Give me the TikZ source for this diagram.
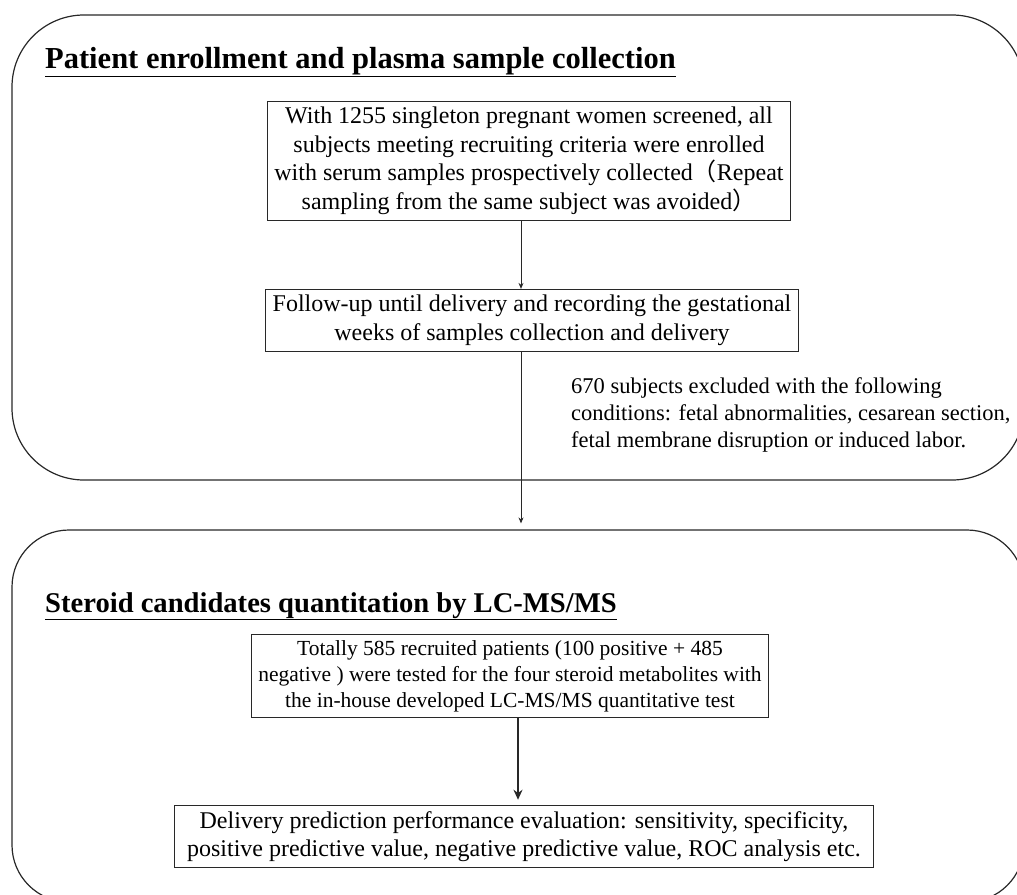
\documentclass[tikz,border=0pt]{standalone}
\usepackage{fontspec}
\setmainfont{Liberation Serif}
\newfontfamily\cjk{Noto Sans CJK SC}
\usetikzlibrary{positioning,arrows.meta}
\definecolor{framecol}{RGB}{40,40,40}

\begin{document}
\begin{tikzpicture}[x=1pt, y=-1pt,
  panel/.style={rectangle, draw=framecol, line width=1.2pt, rounded corners=#1, inner sep=0pt},
  ttl/.style={anchor=base west, inner sep=0pt, font=\fontsize{#1}{34}\selectfont\bfseries},
  bx/.style={rectangle, draw=framecol, line width=0.9pt, align=center,
             inner xsep=7pt, inner ysep=6pt, font=\fontsize{24}{28.5}\selectfont},
  ar/.style={-{Stealth[length=6pt, width=5pt]}, line width=0.9pt, framecol},
  bigar/.style={-{Stealth[length=10pt, width=9pt]}, line width=1.8pt, framecol},
]
\useasboundingbox (0,0) rectangle (1017,894);
\def\spine{521}

% the two panels
\node[panel=72pt, minimum width=1012pt, minimum height=465pt] (toppan) at (518,247.5) {};
\node[panel=57pt, minimum width=1012pt, minimum height=372pt] (botpan) at (518,716) {};

\node[ttl=30.5] (ttlone) at (45,68) {\underline{Patient enrollment and plasma sample collection}};
\node[ttl=28.6] (ttltwo) at (45,612) {\underline{Steroid candidates quantitation by LC-MS/MS}};

\node[bx] (enrol) at (529,161) {With 1255 singleton pregnant women screened, all\\
  subjects meeting recruiting criteria were enrolled\\
  with serum samples prospectively collected{\cjk （}Repeat\\
  sampling from the same subject was avoided{\cjk ）}};
\node[bx] (follow) at (532,320.5) {Follow-up until delivery and recording the gestational\\
  weeks of samples collection and delivery};
\node[anchor=north west, inner sep=0pt, align=left, font=\fontsize{22.5}{27}\selectfont]
  (excl) at (571,377) {670 subjects excluded with the following\\
  conditions: fetal abnormalities, cesarean section,\\
  fetal membrane disruption or induced labor.};

\node[bx, font=\fontsize{21.5}{26}\selectfont] (tested) at (510,676) {Totally 585 recruited patients (100 positive + 485\\
  negative ) were tested for the four steroid metabolites with\\
  the in-house developed LC-MS/MS quantitative test};
\node[bx, inner xsep=13pt] (evalu) at (524,836.5) {Delivery prediction performance evaluation: sensitivity, specificity,\\
  positive predictive value, negative predictive value, ROC analysis etc.};

\coordinate (sp) at (\spine,0);
\coordinate (sq) at (518,0);
\draw[ar] (enrol.south -| sp) -- (follow.north -| sp);
\draw[ar, shorten >=6pt] (follow.south -| sp) -- (botpan.north -| sp);
\draw[bigar, shorten >=5pt] (tested.south -| sq) -- (evalu.north -| sq);
\end{tikzpicture}
\end{document}
